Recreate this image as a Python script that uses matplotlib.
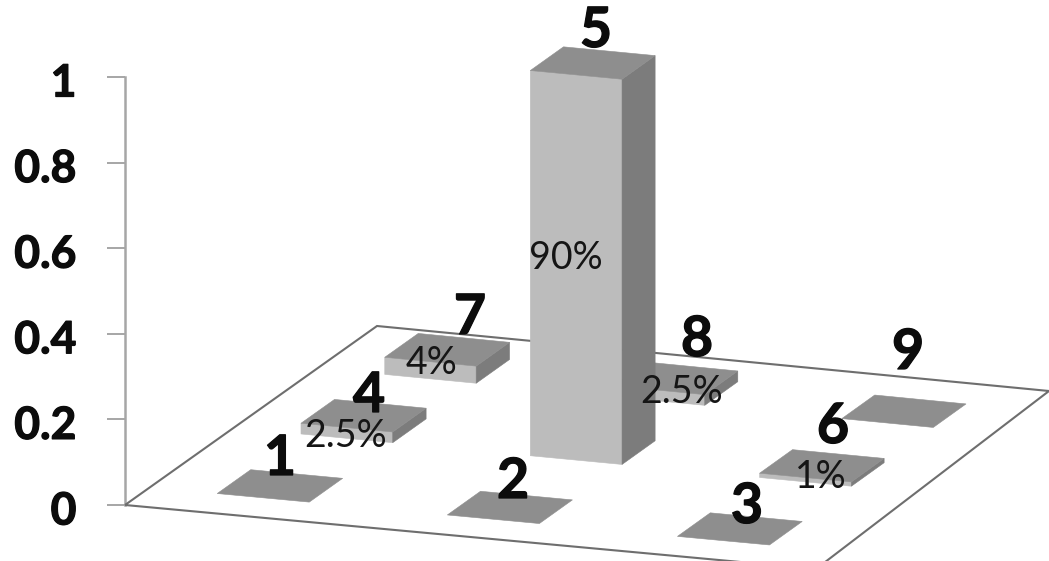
#!/usr/bin/env python3
"""Pseudo-3D probability bars on a 3x3 floor, with percent labels."""

import matplotlib
matplotlib.use("Agg")
import matplotlib.patheffects as pe
import matplotlib.pyplot as plt
import numpy as np
from matplotlib.patches import Polygon
from matplotlib.transforms import ScaledTranslation

# Cell probabilities, numbered from the front-left corner
cells = [1, 2, 3, 4, 5, 6, 7, 8, 9]
values = [0, 0, 0, 0.025, 0.9, 0.01, 0.04, 0.025, 0]
percent_labels = ["", "", "", "2.5%", "90%", "1%", "4%", "2.5%", ""]
y_ticks = [0, 0.2, 0.4, 0.6, 0.8, 1]
y_tick_labels = ["0", "0.2", "0.4", "0.6", "0.8", "1"]

# Layout, in image pixels
W, H = 1049, 561
AXIS_X, AXIS_Y0, AXIS_Y1 = 125, 505, 77
FL, FR = np.array([125, 505.0]), np.array([816, 569.0])
BL, BR = np.array([377, 326.0]), np.array([1049, 391.0])
BR_GRID = np.array([1061, 393.0])  # the cells fan out a little towards the back
GRID_SHIFT = np.array([-2.0, 0.0])
HALF = 0.2 / 3
PX_PER_UNIT = AXIS_Y0 - AXIS_Y1
NUMBER_POS = [(280, 459), (513, 482), (747, 507), (369, 396), (596, 31),
              (833, 427), (470, 318), (697, 340), (908, 353)]
PERCENT_POS = [None, None, None, (346, 436), (566, 258),
               (821, 477), (431, 363), (682, 392), None]

TOP = "#8e8e8e"
FRONT = "#bcbcbc"
SIDE = "#7c7c7c"
FLOOR_LINE = "#6e6e6e"
AXIS_LINE = "#a6a6a6"
INK = "#0c0c0c"

plt.rcParams["font.family"] = ["Lato", "DejaVu Sans"]
HEAVY = [pe.withStroke(linewidth=0.9, foreground=INK)]


def floor_xy(u, v):
    # bilinear map from floor coordinates (0..1, 0..1) to pixels
    front = FL + u * (FR - FL)
    back = BL + u * (BR_GRID - BL)
    return front + v * (back - front) + GRID_SHIFT


def draw_bar(ax, cell, value):
    row, col = (cell - 1) // 3, (cell - 1) % 3
    u, v = (col + 0.5) / 3, (row + 0.5) / 3
    fl = floor_xy(u - HALF, v - HALF)
    fr = floor_xy(u + HALF, v - HALF)
    br = floor_xy(u + HALF, v + HALF)
    bl = floor_xy(u - HALF, v + HALF)
    lift = np.array([0, -value * PX_PER_UNIT])
    z = 3 + (2 - row)
    if value > 0:
        ax.add_patch(Polygon([fl, fr, fr + lift, fl + lift], facecolor=FRONT, edgecolor=FRONT, lw=0.4, zorder=z))
        ax.add_patch(Polygon([fr, br, br + lift, fr + lift], facecolor=SIDE, edgecolor=SIDE, lw=0.4, zorder=z))
    ax.add_patch(Polygon([fl + lift, fr + lift, br + lift, bl + lift], facecolor=TOP, edgecolor=TOP, lw=0.4, zorder=z))


fig = plt.figure(figsize=(W / 100, H / 100), dpi=100, facecolor="white")

# value axis: only the vertical line, ticks and labels are visible
axis = fig.add_axes([AXIS_X / W, 1 - AXIS_Y0 / H, 0.5, PX_PER_UNIT / H])
axis.set_ylim(0, 1)
axis.set_xticks([])
axis.set_yticks(y_ticks)
axis.set_yticklabels(y_tick_labels, fontsize=32, fontweight="bold", color=INK)
axis.tick_params(axis="y", length=13, width=1.4, color=AXIS_LINE, pad=22)
nudge = ScaledTranslation(0, -3 / 100, fig.dpi_scale_trans)
for label in axis.get_yticklabels():
    label.set_transform(label.get_transform() + nudge)
    label.set_path_effects(HEAVY)
for s in ("top", "right", "bottom"):
    axis.spines[s].set_visible(False)
axis.spines["left"].set_color(AXIS_LINE)
axis.spines["left"].set_linewidth(1.8)
axis.patch.set_alpha(0)

# everything on the floor is laid out in pixels
ax = fig.add_axes([0, 0, 1, 1])
ax.set_xlim(0, W)
ax.set_ylim(H, 0)
ax.axis("off")

ax.add_patch(Polygon([FL, FR, BR, BL], closed=True, facecolor="none",
                     edgecolor=FLOOR_LINE, lw=1.5, zorder=2))

for cell, value in zip(cells, values):
    draw_bar(ax, cell, value)

for cell, pos in zip(cells, NUMBER_POS):
    ax.text(pos[0], pos[1], str(cell), ha="center", va="center", fontsize=40,
            fontweight="bold", color=INK, zorder=10, path_effects=HEAVY)
for label, pos in zip(percent_labels, PERCENT_POS):
    if pos is not None:
        ax.text(pos[0], pos[1], label, ha="center", va="center", fontsize=27,
                color="#151515", zorder=11)

fig.savefig("out.png", dpi=100)
